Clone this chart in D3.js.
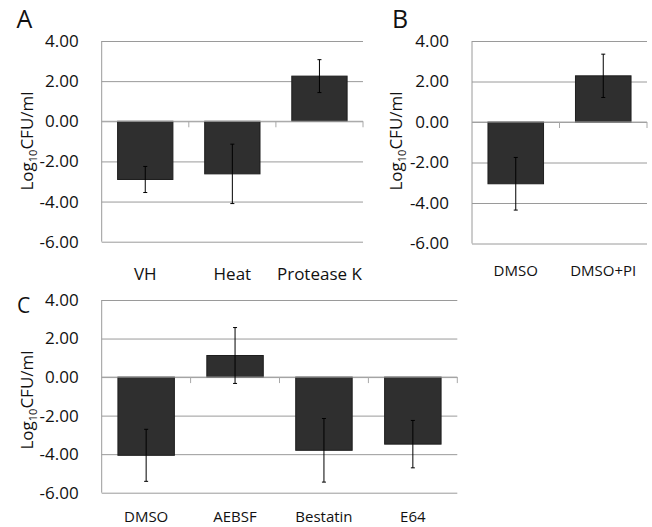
<!DOCTYPE html>
<html>
<head>
<meta charset="utf-8">
<script src="https://cdn.jsdelivr.net/npm/d3@7"></script>
<style>
  html, body { margin: 0; padding: 0; background: #fff; }
  svg { display: block; font-family: "Open Sans", sans-serif; }
</style>
</head>
<body>
<svg id="chart" width="652" height="527"></svg>
<script>
// ---------- data ----------
const yTicks = [4, 2, 0, -2, -4, -6];

const catsA = ["VH", "Heat", "Protease K"];
const valsA = [-2.90, -2.62, 2.25];
const errsA = [0.65, 1.48, 0.82];

const catsB = ["DMSO", "DMSO+PI"];
const valsB = [-3.05, 2.28];
const errsB = [1.30, 1.07];

const catsC = ["DMSO", "AEBSF", "Bestatin", "E64"];
const valsC = [-4.06, 1.12, -3.80, -3.48];
const errsC = [1.35, 1.45, 1.65, 1.23];

const panelLetters = ["A", "B", "C"];

// ---------- drawing ----------
const svg = d3.select("#chart");
const fmt = d => d.toFixed(2);

function drawPanel(cfg) {
  const g = svg.append("g");
  const x = d3.scaleBand().domain(cfg.cats).range([cfg.x0, cfg.x1])
    .paddingInner(0.365).paddingOuter(0.1825);
  const y = d3.scaleLinear().domain([-6, 4]).range([cfg.yb, cfg.yt]);

  // gridlines
  g.append("g")
    .attr("transform", `translate(${cfg.x0},0)`)
    .call(d3.axisLeft(y).tickValues(yTicks).tickSize(-(cfg.x1 - cfg.x0)).tickFormat(""))
    .call(s => s.select(".domain").remove())
    .call(s => s.selectAll(".tick line").attr("stroke", "#9a9a9a").attr("stroke-width", 1));

  // left axis line
  g.append("line")
    .attr("x1", cfg.x0).attr("x2", cfg.x0)
    .attr("y1", y(4)).attr("y2", y(-6))
    .attr("stroke", "#9a9a9a");

  // y tick labels
  g.append("g")
    .attr("transform", `translate(${cfg.x0},0)`)
    .call(d3.axisLeft(y).tickValues(yTicks).tickSize(0).tickPadding(23).tickFormat(fmt))
    .call(s => s.select(".domain").remove())
    .call(s => s.selectAll("text")
      .attr("font-family", "'Open Sans', sans-serif")
      .attr("font-size", 17).attr("fill", "#111"));

  // bars
  g.selectAll("rect.bar").data(cfg.cats).join("rect")
    .attr("class", "bar")
    .attr("x", d => x(d))
    .attr("width", x.bandwidth())
    .attr("y", (d, i) => y(Math.max(0, cfg.vals[i])))
    .attr("height", (d, i) => Math.abs(y(cfg.vals[i]) - y(0)))
    .attr("fill", "#2f2f2f")
    .attr("stroke", "#1e1e1e").attr("stroke-width", 1);

  // zero axis with category-boundary ticks
  g.append("line")
    .attr("x1", cfg.x0).attr("x2", cfg.x1)
    .attr("y1", y(0)).attr("y2", y(0))
    .attr("stroke", "#a8a8a8");
  const bounds = d3.range(1, cfg.cats.length + 1).map(i => cfg.x0 + i * x.step());
  g.selectAll("line.zt").data(bounds).join("line")
    .attr("class", "zt")
    .attr("x1", d => d).attr("x2", d => d)
    .attr("y1", y(0)).attr("y2", y(0) + 6)
    .attr("stroke", "#a8a8a8");

  // error bars
  const eb = g.selectAll("g.err").data(cfg.cats).join("g").attr("class", "err");
  eb.append("line")
    .attr("x1", d => x(d) + x.bandwidth() / 2).attr("x2", d => x(d) + x.bandwidth() / 2)
    .attr("y1", (d, i) => y(cfg.vals[i] + cfg.errs[i]))
    .attr("y2", (d, i) => y(cfg.vals[i] - cfg.errs[i]))
    .attr("stroke", "#000").attr("stroke-width", 1);
  [1, -1].forEach(sgn => {
    eb.append("line")
      .attr("x1", d => x(d) + x.bandwidth() / 2 - 2).attr("x2", d => x(d) + x.bandwidth() / 2 + 2)
      .attr("y1", (d, i) => y(cfg.vals[i] + sgn * cfg.errs[i]))
      .attr("y2", (d, i) => y(cfg.vals[i] + sgn * cfg.errs[i]))
      .attr("stroke", "#000").attr("stroke-width", 1);
  });

  // x labels
  g.selectAll("text.xl").data(cfg.cats).join("text")
    .attr("class", "xl")
    .attr("x", d => x(d) + x.bandwidth() / 2)
    .attr("y", cfg.xlY)
    .attr("text-anchor", "middle")
    .attr("font-size", cfg.xlSize)
    .attr("fill", "#111")
    .text(d => d);

  // y title
  const t = g.append("text")
    .attr("transform", `translate(${cfg.titleX},${cfg.titleY}) rotate(-90)`)
    .attr("text-anchor", "middle")
    .attr("font-size", 17)
    .attr("fill", "#111");
  t.append("tspan").text("Log");
  t.append("tspan").attr("font-size", 11).attr("dy", 4).text("10");
  t.append("tspan").attr("dy", -4).text("CFU/ml");

  // panel letter
  g.append("text")
    .attr("x", cfg.letterX).attr("y", cfg.letterY)
    .attr("font-size", cfg.letterSize)
    .attr("fill", "#111")
    .text(cfg.letter);
}

drawPanel({ cats: catsA, vals: valsA, errs: errsA, x0: 101.7, x1: 363, yt: 41, yb: 241.7,
  xlY: 280, xlSize: 17, titleX: 33, titleY: 141, letter: panelLetters[0], letterX: 16.5, letterY: 28, letterSize: 25 });
drawPanel({ cats: catsB, vals: valsB, errs: errsB, x0: 472, x1: 647, yt: 41, yb: 243.5,
  xlY: 276, xlSize: 15, titleX: 401.5, titleY: 141, letter: panelLetters[1], letterX: 392, letterY: 28, letterSize: 25 });
drawPanel({ cats: catsC, vals: valsC, errs: errsC, x0: 101.7, x1: 457.3, yt: 300, yb: 492.7,
  xlY: 522, xlSize: 15, titleX: 33, titleY: 400, letter: panelLetters[2], letterX: 17, letterY: 313, letterSize: 21 });
</script>
</body>
</html>
